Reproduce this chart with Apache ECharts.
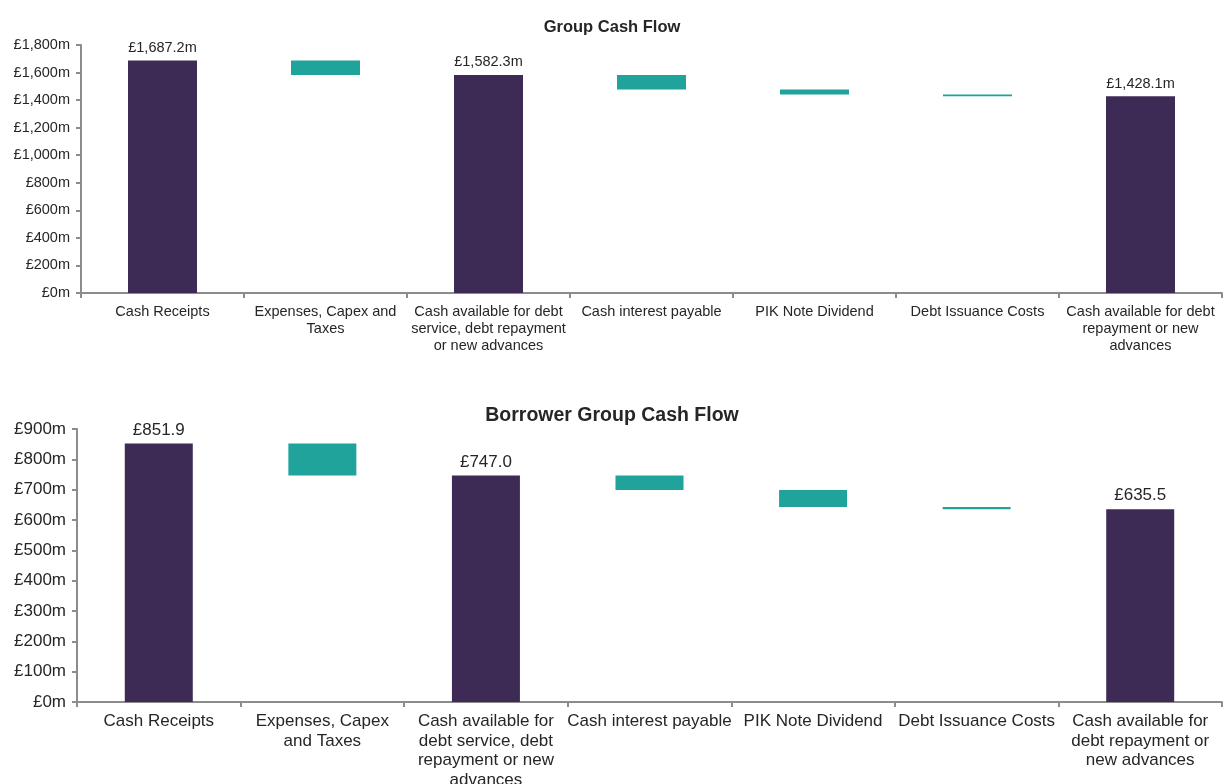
<!DOCTYPE html>
<html>
<head>
<meta charset="utf-8">
<script src="https://cdn.jsdelivr.net/npm/echarts@6/dist/echarts.min.js"></script>
<style>
  html, body { margin: 0; padding: 0; background: #ffffff; }
  #chart { width: 1224px; height: 784px; }
</style>
</head>
<body>
<div id="chart"></div>
<script>
// ---- Data ----
var topTitle = 'Group Cash Flow';
var bottomTitle = 'Borrower Group Cash Flow';
var topCategories = [
  'Cash Receipts',
  'Expenses, Capex and\nTaxes',
  'Cash available for debt\nservice, debt repayment\nor new advances',
  'Cash interest payable',
  'PIK Note Dividend',
  'Debt Issuance Costs',
  'Cash available for debt\nrepayment or new\nadvances'
];
var bottomCategories = [
  'Cash Receipts',
  'Expenses, Capex\nand Taxes',
  'Cash available for\ndebt service, debt\nrepayment or new\nadvances',
  'Cash interest payable',
  'PIK Note Dividend',
  'Debt Issuance Costs',
  'Cash available for\ndebt repayment or\nnew advances'
];
var barTypes = ['total', 'delta', 'total', 'delta', 'delta', 'delta', 'total'];
var topValues = [1687.2, 104.9, 1582.3, 106.0, 36.0, 12.2, 1428.1];
var bottomValues = [851.9, 104.9, 747.0, 48.5, 56.0, 7.0, 635.5];
var topAxisMax = 1800, topAxisInterval = 200;
var bottomAxisMax = 900, bottomAxisInterval = 100;

// ---- Styles ----
var totalColor = '#3d2b56';
var deltaColor = '#1fa39a';
var axisColor = '#8c8c8c';
var textColor = '#262626';
var fontFamily = 'Liberation Sans, Arial, sans-serif';

function buildBases(values) {
  var bases = [];
  var running = 0;
  for (var i = 0; i < values.length; i++) {
    if (barTypes[i] === 'total') {
      bases.push(0);
      running = values[i];
    } else {
      running = running - values[i];
      bases.push(running);
    }
  }
  return bases;
}

function fmtMoney(v) {
  return v.toLocaleString('en-GB', { minimumFractionDigits: 1, maximumFractionDigits: 1 });
}

function buildVisible(values, suffix, fontSize) {
  return values.map(function (v, i) {
    var isTotal = barTypes[i] === 'total';
    return {
      value: v,
      itemStyle: { color: isTotal ? totalColor : deltaColor },
      label: {
        show: isTotal,
        position: 'top',
        distance: 5,
        color: textColor,
        fontSize: fontSize,
        fontFamily: fontFamily,
        formatter: '£' + fmtMoney(v) + suffix
      }
    };
  });
}

function axisCommon(gridIndex, cats, fontSize, lineHeight) {
  return {
    type: 'category',
    gridIndex: gridIndex,
    data: cats,
    axisLine: { lineStyle: { color: axisColor, width: 2 } },
    axisTick: { show: true, length: 5, lineStyle: { color: axisColor, width: 2 } },
    axisLabel: {
      interval: 0,
      margin: 10,
      color: textColor,
      fontSize: fontSize,
      lineHeight: lineHeight,
      fontFamily: fontFamily,
      align: 'center',
      hideOverlap: false
    },
    splitLine: { show: false }
  };
}

function yAxisCommon(gridIndex, max, interval, fontSize) {
  return {
    type: 'value',
    gridIndex: gridIndex,
    min: 0,
    max: max,
    interval: interval,
    axisLine: { show: true, lineStyle: { color: axisColor, width: 2 } },
    axisTick: { show: true, length: 5, lineStyle: { color: axisColor, width: 2 } },
    axisLabel: {
      margin: 11,
      color: textColor,
      fontSize: fontSize,
      fontFamily: fontFamily,
      formatter: function (v) { return '£' + v.toLocaleString('en-GB') + 'm'; }
    },
    splitLine: { show: false }
  };
}

var chart = echarts.init(document.getElementById('chart'), null, { renderer: 'canvas' });
chart.setOption({
  backgroundColor: '#ffffff',
  animation: false,
  title: [
    {
      text: topTitle, left: 'center', top: 14,
      textStyle: { fontSize: 16.5, fontWeight: 'bold', color: textColor, fontFamily: fontFamily }
    },
    {
      text: bottomTitle, left: 'center', top: 401,
      textStyle: { fontSize: 19.5, fontWeight: 'bold', color: textColor, fontFamily: fontFamily }
    }
  ],
  grid: [
    { left: 81, right: 2, top: 45, height: 248, containLabel: false, outerBoundsMode: 'none' },
    { left: 77, right: 2, top: 429, height: 273, containLabel: false, outerBoundsMode: 'none' }
  ],
  xAxis: [
    axisCommon(0, topCategories, 14.5, 17),
    axisCommon(1, bottomCategories, 17, 19.5)
  ],
  yAxis: [
    yAxisCommon(0, topAxisMax, topAxisInterval, 14.5),
    yAxisCommon(1, bottomAxisMax, bottomAxisInterval, 17)
  ],
  series: [
    {
      type: 'bar', xAxisIndex: 0, yAxisIndex: 0, stack: 'top', barWidth: 69,
      itemStyle: { color: 'rgba(0,0,0,0)' }, silent: true,
      data: buildBases(topValues)
    },
    {
      type: 'bar', xAxisIndex: 0, yAxisIndex: 0, stack: 'top', barWidth: 69,
      data: buildVisible(topValues, 'm', 14.5)
    },
    {
      type: 'bar', xAxisIndex: 1, yAxisIndex: 1, stack: 'bottom', barWidth: 68,
      itemStyle: { color: 'rgba(0,0,0,0)' }, silent: true,
      data: buildBases(bottomValues)
    },
    {
      type: 'bar', xAxisIndex: 1, yAxisIndex: 1, stack: 'bottom', barWidth: 68,
      data: buildVisible(bottomValues, '', 17)
    }
  ]
});
</script>
</body>
</html>
